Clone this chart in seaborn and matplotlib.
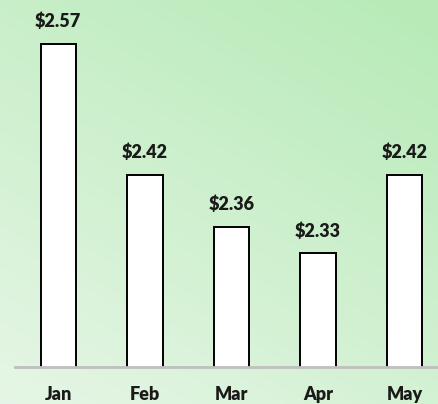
import numpy as np
import pandas as pd
import matplotlib.pyplot as plt
import seaborn as sns

# Daten
months = ["Jan", "Feb", "Mar", "Apr", "May"]
prices = [2.57, 2.42, 2.36, 2.33, 2.42]

df = pd.DataFrame({"month": months, "price": prices})

sns.set_style("white")
plt.rcParams['font.family'] = ['Lato', 'DejaVu Sans']

fig = plt.figure(figsize=(4.39, 4.04), dpi=100)

# Hintergrund mit Farbverlauf (hell unten links, dunkler oben rechts)
bg = fig.add_axes([0, 0, 1, 1], zorder=0)
yy, xx = np.mgrid[0:1:200j, 0:1:220j]
t = np.clip(0.5 * xx + 0.8 * yy, 0, 1.3) / 1.3
light = np.array([230, 246, 230]) / 255
dark = np.array([182, 234, 182]) / 255
img = light[None, None, :] * (1 - t[..., None]) + dark[None, None, :] * t[..., None]
bg.imshow(img, origin="lower", extent=[0, 1, 0, 1], aspect="auto", interpolation="bilinear")
bg.set_axis_off()

ax = fig.add_axes([15 / 439, 37 / 404, 424 / 439, 367 / 404], zorder=1)
ax.patch.set_alpha(0)

sns.barplot(data=df, x="month", y="price", color="white", edgecolor="black",
            linewidth=1.4, width=0.41, saturation=1, ax=ax)

ax.set_ylim(2.2, 2.62)
ax.set_xlim(-0.5, 4.4)

# Werte über den Balken
for i, v in enumerate(prices):
    ax.annotate(f"${v:.2f}", (i, v), xytext=(0, 10), textcoords="offset points",
                ha="center", va="bottom", fontsize=13, fontweight="heavy",
                color="#1a1a1a")

ax.set_yticks([])
ax.set_xlabel("")
ax.set_ylabel("")
for s in ["top", "right", "left"]:
    ax.spines[s].set_visible(False)
ax.spines["bottom"].set_color("#bfbfbf")
ax.spines["bottom"].set_linewidth(2)
ax.tick_params(axis="x", length=0, pad=14)
for lbl in ax.get_xticklabels():
    lbl.set_fontweight("heavy")
    lbl.set_fontsize(13)
    lbl.set_color("#1a1a1a")

fig.savefig("out.png", dpi=100)
